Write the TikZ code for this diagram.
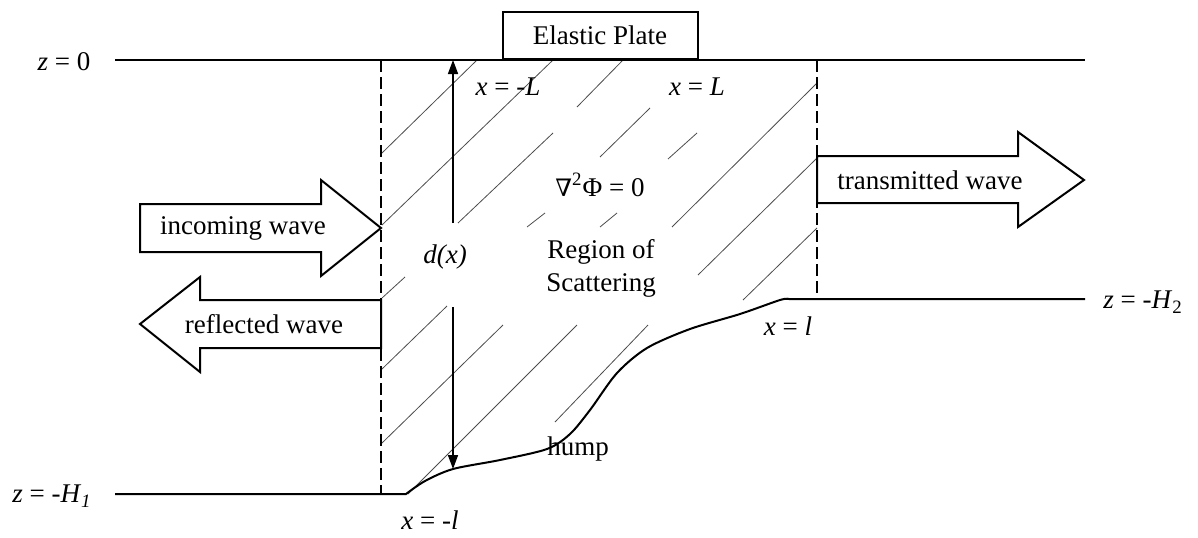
\documentclass[tikz,border=0pt]{standalone}
\usepackage{fontspec}
\setmainfont{Liberation Serif}
\newfontfamily\symfont{DejaVu Serif}
\usetikzlibrary{arrows.meta, positioning}

\begin{document}
\begin{tikzpicture}[
    x=0.5pt, y=-0.5pt,
    every node/.style={font=\fontsize{13.5}{16.5}\selectfont, inner sep=1pt},
    surface/.style={line width=1pt},
    divider/.style={line width=0.8pt, dash pattern=on 6pt off 2.5pt},
    hatch/.style={line width=0.4pt, black!70},
    blockarrow/.style={line width=1pt, fill=white, line join=miter},
    plate/.style={rectangle, draw, line width=1pt, minimum width=97.5pt, minimum height=23.5pt, anchor=south},
    darrow/.style={line width=0.8pt, -{Triangle[length=7pt, width=5pt]}}
]
\useasboundingbox (0,0) rectangle (1198,537);

% hatching of the scattering region
\foreach \xa/\ya/\xb/\yb in {382/153/477/60, 382/225/553/60, 458/223/553/133,
    577/107/623/60, 600/157/650/108, 668/159/697/133, 527/227/545/213,
    600/227/617/213, 672/227/817/83, 698/275/817/158, 743/300/817/228,
    382/298/405/277, 382/369/447/306, 382/443/503/325, 408/494/577/325,
    555/422/648/325}
  \draw[hatch] (\xa,\ya) -- (\xb,\yb);

% free surface and sea bed
\draw[surface] (115,60) -- (1085,60);
\draw[surface] (115,494) -- plot[smooth, tension=0.5] coordinates {(406,494) (425,481) (453,469)
    (500,460) (547,449) (570,434) (590,410) (617,373) (647,348) (690,329) (740,314)
    (780,300) (789,299)} -- (1085,299);

% matching lines
\draw[divider] (381,60) -- (381,494);
\draw[divider] (817,60) -- (817,299);

% waves
\draw[blockarrow] (140,204) -- (321,204) -- (321,180) -- (381,228) -- (321,276) -- (321,252) -- (140,252) -- cycle;
\draw[blockarrow] (381,300) -- (200,300) -- (200,277) -- (140,324) -- (200,372) -- (200,348) -- (381,348) -- cycle;
\draw[blockarrow] (817,156) -- (1018,156) -- (1018,132) -- (1084,180) -- (1018,227) -- (1018,203) -- (817,203) -- cycle;
\node (incoming) at (243,228) {incoming wave};
\node (reflected) at (264,324) {reflected wave};
\node (transmitted) at (930,180) {transmitted wave};

% plate
\node[plate] (plate) at (600,60) {Elastic Plate};

% depth
\coordinate (dtop) at (453,60);
\coordinate (dup) at (453,223);
\coordinate (ddown) at (453,307);
\coordinate (dbed) at (453,469);
\draw[darrow] (dup) -- (dtop);
\draw[darrow] (ddown) -- (dbed);
\node (depth) at (445,257) {\textit{d(x)}};

% labels
\node (z0) at (64,62) {\textit{z} = 0};
\node (zH1) at (52,496) {\textit{z} = -\textit{H}\textsubscript{\textit{1}}};
\node (zH2) at (1143,302) {\textit{z} = -\textit{H}\textsubscript{2}};
\node (xmL) at (508,87) {\textit{x} = -\textit{L}};
\node (xpL) at (697,87) {\textit{x} = \textit{L}};
\node (xml) at (430,520) {\textit{x} = -\textit{l}};
\node (xpl) at (788,326) {\textit{x} = \textit{l}};
\node (laplace) at (600,185) {{\symfont\fontsize{12}{14}\selectfont ∇}\textsuperscript{2}Φ = 0};
\node[align=center] (region) at (601,268) {Region of\\Scattering};
\node (hump) at (578,449) {hump};
\end{tikzpicture}
\end{document}
